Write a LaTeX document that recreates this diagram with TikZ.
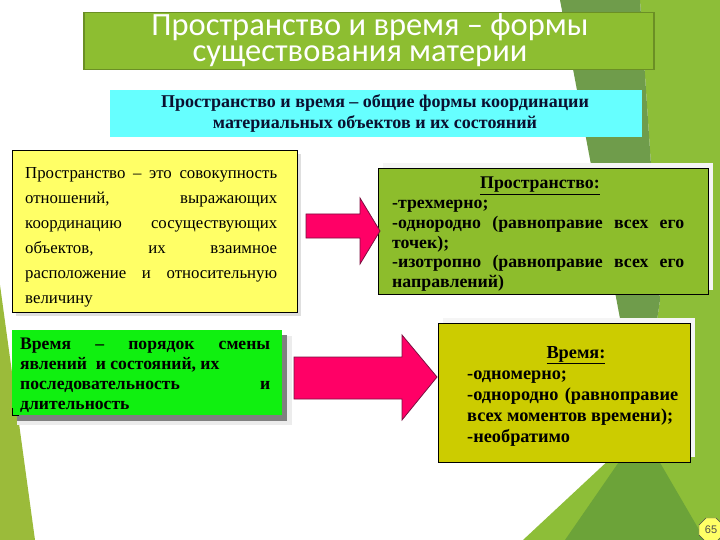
\documentclass[tikz,border=0pt]{standalone}
\usepackage{fontspec}
\setmainfont{Liberation Serif}
\newfontfamily\titlefont{Carlito}
\newfontfamily\numfont{Liberation Sans}
\usetikzlibrary{shapes.geometric}
\definecolor{bgdark}{HTML}{6F9C4B}
\definecolor{bglight}{HTML}{8DBE38}
\definecolor{bglow}{HTML}{6CA339}
\definecolor{bgleft}{HTML}{9BBB3A}
\definecolor{titlefill}{HTML}{8DBE31}
\definecolor{titleline}{HTML}{6B8F25}
\definecolor{cyanfill}{HTML}{66FFFF}
\definecolor{yellowfill}{HTML}{FFFF66}
\definecolor{limefill}{HTML}{10F010}
\definecolor{spacefill}{HTML}{8DBD2C}
\definecolor{timefill}{HTML}{CCCC00}
\definecolor{arrowfill}{HTML}{FF0066}
\definecolor{arrowline}{HTML}{7A1040}
\definecolor{navytext}{HTML}{0A1030}
\tikzset{
  panel/.style={draw=black, line width=0.8pt},
  blockarrow/.style={fill=arrowfill, draw=arrowline, line width=0.8pt},
  bodytext/.style={inner sep=0pt, anchor=base west, align=left},
  titleline/.style={text=white, inner sep=0pt, anchor=base, font=\titlefont\fontsize{32.5}{32.5}\selectfont},
}
\begin{document}
\begin{tikzpicture}[x=1pt,y=-1pt]
\useasboundingbox (0,0) rectangle (720,540);
\fill[white] (0,0) rectangle (720,540);
% background facets
\fill[bglight] (640,0) -- (720,0) -- (720,540) -- (523,540) -- (641,430) -- (660,300) -- cycle;
\fill[bgdark] (560,0) -- (640,0) -- (660,300) -- (641,430) -- cycle;
\fill[bglow] (565,540) -- (641,430) -- (705,540) -- cycle;
\fill[bgleft] (0,285) -- (35,540) -- (0,540) -- cycle;
% title
\node[draw=titleline, line width=1.5pt, fill=titlefill, minimum width=570pt, minimum height=57pt, anchor=north west, inner sep=0pt] (title) at (83,12) {};
\node[titleline, text height=21pt, text depth=2pt] (titleA) at (370,36) {Пространство и время – формы};
\node[titleline, text height=17pt, text depth=5pt] (titleB) at (360,62) {существования материи};
% cyan box
\node[fill=cyanfill, minimum width=532pt, minimum height=47pt, anchor=north west, inner sep=0pt] (general) at (110,90) {};
\node[text=navytext, inner sep=0pt, align=center, font=\bfseries\fontsize{18}{21}\selectfont] (generaltext) at (375,113) {Пространство и время – общие формы координации\\материальных объектов и их состояний};
% yellow box
\fill[gray!25] (16,154) rectangle (301,316);
\node[panel, fill=yellowfill, minimum width=285pt, minimum height=162pt, anchor=north west, inner sep=0pt] (spacedef) at (12,150) {};
\node[bodytext, font=\fontsize{16.8}{24.8}\selectfont] (spacedeftext) at (25,179) {\parbox[t]{252pt}{Пространство – это совокупность\linebreak отношений, выражающих\linebreak координацию сосуществующих\linebreak объектов, их взаимное\linebreak расположение и относительную\linebreak величину}};
% green box
\fill[gray!15] (17,336) rectangle (292,425);
\fill[gray] (17,335) rectangle (287,421);
\node[fill=limefill, minimum width=270pt, minimum height=85pt, anchor=north west, inner sep=0pt] (timedef) at (12,330) {};
\draw[black, line width=0.8pt] (12,408) -- (12,415) -- (19,415);
\node[bodytext, font=\bfseries\fontsize{17.6}{20}\selectfont] (timedeftext) at (20,349) {\parbox[t]{250pt}{Время – порядок смены\linebreak явлений \ и состояний, их\\ последовательность и\linebreak длительность}};
% space properties box
\fill[gray!8] (383,163) rectangle (713,290);
\node[panel, fill=spacefill, minimum width=330pt, minimum height=126pt, anchor=north west, inner sep=0pt] (spaceprop) at (378,168) {};
\node[inner sep=0pt, anchor=base, font=\bfseries\fontsize{17.8}{19.6}\selectfont] (spacehead) at (540,189) {\underline{Пространство:}};
\node[bodytext, font=\bfseries\fontsize{17.8}{19.6}\selectfont] (spaceproptext) at (392,209) {\parbox[t]{292pt}{-трехмерно;\\ -однородно (равноправие всех его\linebreak точек);\\ -изотропно (равноправие всех его\linebreak направлений)}};
% time properties box
\fill[gray!8] (443,318) rectangle (695,457);
\node[panel, fill=timefill, minimum width=252pt, minimum height=139pt, anchor=north west, inner sep=0pt] (timeprop) at (438,323) {};
\node[inner sep=0pt, anchor=base, font=\bfseries\fontsize{18.3}{21}\selectfont] (timehead) at (576,358) {\underline{Время:}};
\node[bodytext, font=\bfseries\fontsize{18.3}{21}\selectfont] (timeproptext) at (467,379) {\parbox[t]{211pt}{-одномерно;\\ -однородно (равноправие\linebreak всех моментов времени);\\ -необратимо}};
% arrows
\draw[blockarrow] (306,214) -- (360,214) -- (360,198) -- (380,231) -- (360,264) -- (360,238) -- (306,238) -- cycle;
\draw[blockarrow] (294,357) -- (402,357) -- (402,335) -- (437,377) -- (402,420) -- (402,399) -- (294,399) -- cycle;
% page number
\node[regular polygon, regular polygon sides=8, draw=black!70, fill=yellowfill, minimum size=26pt, inner sep=0pt, font=\numfont\fontsize{11}{11}\selectfont, text=black!70] (pagenum) at (711,530) {65};
\end{tikzpicture}
\end{document}
